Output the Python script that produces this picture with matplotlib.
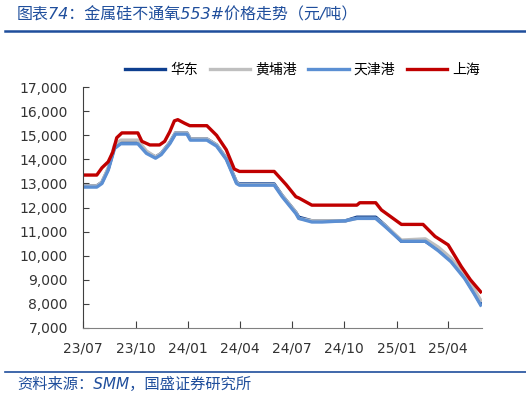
import matplotlib
matplotlib.use("Agg")
import matplotlib.pyplot as plt
import matplotlib.dates as mdates
from matplotlib.lines import Line2D
import pandas as pd

plt.rcParams['font.family'] = ['DejaVu Sans', 'Noto Sans CJK SC']

# 华东 / 黄埔港 / 天津港 share the same dates
east_dates = ["2023-07-01", "2023-07-25", "2023-08-03", "2023-08-14", "2023-08-25",
              "2023-09-05", "2023-10-05", "2023-10-20", "2023-11-05", "2023-11-15",
              "2023-11-30", "2023-12-10", "2023-12-30", "2024-01-05", "2024-02-03",
              "2024-02-20", "2024-03-08", "2024-03-26", "2024-03-31", "2024-05-31",
              "2024-06-14", "2024-07-08", "2024-07-13", "2024-08-05", "2024-08-23",
              "2024-10-03", "2024-10-23", "2024-11-25", "2024-12-12", "2025-01-09",
              "2025-02-20", "2025-03-15", "2025-04-06", "2025-04-30", "2025-05-17",
              "2025-05-28"]
huadong = [12900, 12900, 13050, 13600, 14500, 14700, 14700, 14300, 14100, 14250,
           14700, 15100, 15100, 14850, 14850, 14600, 14050, 13050, 12980, 12980,
           12500, 11800, 11600, 11450, 11450, 11450, 11600, 11600, 11250, 10600,
           10600, 10250, 9800, 9100, 8450, 8000]
huangpu = [12900, 12900, 13050, 13650, 14600, 14800, 14800, 14350, 14100, 14250,
           14700, 15100, 15100, 14850, 14850, 14600, 14050, 13050, 12950, 12950,
           12500, 11800, 11550, 11450, 11450, 11450, 11550, 11550, 11250, 10650,
           10700, 10350, 9900, 9250, 8600, 8150]
tianjin = [12850, 12850, 13000, 13550, 14450, 14650, 14650, 14250, 14050, 14200,
           14650, 15050, 15050, 14800, 14800, 14550, 14000, 13000, 12930, 12930,
           12450, 11750, 11550, 11400, 11400, 11450, 11550, 11550, 11200, 10600,
           10600, 10200, 9750, 9050, 8400, 7950]

sh_dates = ["2023-07-01", "2023-07-25", "2023-08-03", "2023-08-14", "2023-08-22",
            "2023-08-29", "2023-09-07", "2023-10-05", "2023-10-12", "2023-10-26",
            "2023-11-12", "2023-11-21", "2023-11-30", "2023-12-08", "2023-12-14",
            "2023-12-26", "2024-01-04", "2024-02-03", "2024-02-20", "2024-03-08",
            "2024-03-22", "2024-03-31", "2024-05-31", "2024-06-21", "2024-07-08",
            "2024-07-13", "2024-08-05", "2024-10-23", "2024-10-28", "2024-11-25",
            "2024-12-05", "2025-01-09", "2025-02-16", "2025-03-09", "2025-04-01",
            "2025-04-24", "2025-05-10", "2025-05-28"]
shanghai = [13350, 13350, 13650, 13900, 14300, 14900, 15100, 15100, 14750, 14600,
            14600, 14750, 15150, 15600, 15650, 15500, 15400, 15400, 15000, 14400,
            13600, 13500, 13500, 12950, 12450, 12400, 12100, 12100, 12200, 12200,
            11900, 11300, 11300, 10800, 10450, 9550, 9000, 8500]

labels = ["华东", "黄埔港", "天津港", "上海"]
colors = ["#0E3F8F", "#BFBFBF", "#5B8FD3", "#C00000"]

ed = pd.to_datetime(east_dates)
sd = pd.to_datetime(sh_dates)

fig = plt.figure(figsize=(5.26, 3.98), dpi=100)
ax = fig.add_axes([0.158, 0.176, 0.758, 0.605])

lw = 2.4
ax.plot(ed, huadong, color=colors[0], lw=lw, label=labels[0])
ax.plot(ed, huangpu, color=colors[1], lw=lw, label=labels[1])
ax.plot(ed, tianjin, color=colors[2], lw=lw, label=labels[2])
ax.plot(sd, shanghai, color=colors[3], lw=lw, label=labels[3])

ax.set_ylim(7000, 17000)
ax.set_yticks(range(7000, 17001, 1000))
ax.set_yticklabels([f"{v:,}" for v in range(7000, 17001, 1000)])
ax.set_xlim(pd.Timestamp("2023-07-01"), pd.Timestamp("2025-05-30"))
ax.xaxis.set_major_locator(mdates.MonthLocator(bymonth=[1, 4, 7, 10]))
ax.xaxis.set_major_formatter(mdates.DateFormatter("%y/%m"))

for s in ["top", "right"]:
    ax.spines[s].set_visible(False)
ax.spines["left"].set_color("#404040")
ax.spines["bottom"].set_color("#808080")
ax.tick_params(axis="y", direction="in", length=4, pad=11, labelsize=10,
               color="#404040", labelcolor="#333333")
ax.tick_params(axis="x", direction="in", length=5, pad=10, labelsize=10,
               color="#404040", labelcolor="#333333")

fig.legend(loc="center", bbox_to_anchor=(0.575, 0.824), ncol=4, frameon=False,
           fontsize=10, handlelength=2.9, handletextpad=0.35, columnspacing=0.85,
           prop={'family': ['Noto Sans CJK SC'], 'size': 10})

fig.text(0.032, 0.962, "图表74：金属硅不通氧553#价格走势（元/吨）", color="#1F4E9C",
         fontsize=11.5, style="italic", va="center", ha="left")
fig.add_artist(Line2D([0.01, 1.0], [0.922, 0.922], color="#1F4E9C", lw=1.8,
                      transform=fig.transFigure))
fig.add_artist(Line2D([0.01, 1.0], [0.065, 0.065], color="#1F4E9C", lw=1.2,
                      transform=fig.transFigure))
fig.text(0.033, 0.033, "资料来源：SMM，国盛证券研究所", color="#1F4E9C",
         fontsize=11, style="italic", va="center", ha="left")

fig.savefig("out.png", dpi=100)
